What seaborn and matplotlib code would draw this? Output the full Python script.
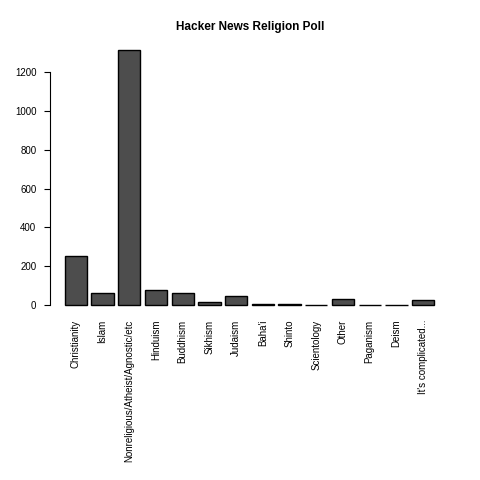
import matplotlib
matplotlib.use("Agg")
import matplotlib.pyplot as plt
import seaborn as sns
import pandas as pd

religions = ["Christianity", "Islam", "Nonreligious/Atheist/Agnostic/etc", "Hinduism",
             "Buddhism", "Sikhism", "Judaism", "Baha'i", "Shinto", "Scientology",
             "Other", "Paganism", "Deism", "It's complicated..."]
votes = [252, 59, 1315, 76, 59, 12, 47, 6, 6, 1, 31, 1, 1, 26]
y_ticks = [0, 200, 400, 600, 800, 1000, 1200]

sns.set_theme(style="white")
plt.rcParams['font.family'] = ['Liberation Sans', 'DejaVu Sans']

df = pd.DataFrame({"religion": religions, "votes": votes})

W, H = 480, 480
fig = plt.figure(figsize=(4.8, 4.8), dpi=100)
ax = fig.add_axes([50 / W, 1 - 315 / H, (449 - 50) / W, (315 - 40) / H])

sns.barplot(data=df, x="religion", y="votes", color="#4D4D4D", saturation=1,
            width=1 / 1.2, edgecolor="black", linewidth=1.0, ax=ax)

n = len(religions)
ax.set_xlim(-0.97, n - 1 + 0.97)
ymax = max(votes)
ax.set_ylim(-0.04 * ymax, 1.04 * ymax)

for s in ["top", "right", "bottom"]:
    ax.spines[s].set_visible(False)
ax.spines["left"].set_bounds(0, 1200)
ax.spines["left"].set_color("black")
ax.spines["left"].set_linewidth(0.8)

ax.set_yticks(y_ticks)
ax.set_yticklabels([str(v) for v in y_ticks], fontsize=7)
ax.tick_params(axis="y", left=True, length=4.3, width=0.8, color="black", pad=5.5, labelcolor="black")
ax.set_xticks(range(n))
ax.set_xticklabels(religions, rotation=90, fontsize=7, color="black")
ax.tick_params(axis="x", bottom=False, length=0, pad=3.5)
ax.set_xlabel("")
ax.set_ylabel("")
ax.grid(False)

fig.text(250 / W, 1 - 27 / H, "Hacker News Religion Poll", ha="center", va="center",
         fontsize=8.5, fontweight="bold", color="black")

fig.savefig("out.png", dpi=100, facecolor="white")
